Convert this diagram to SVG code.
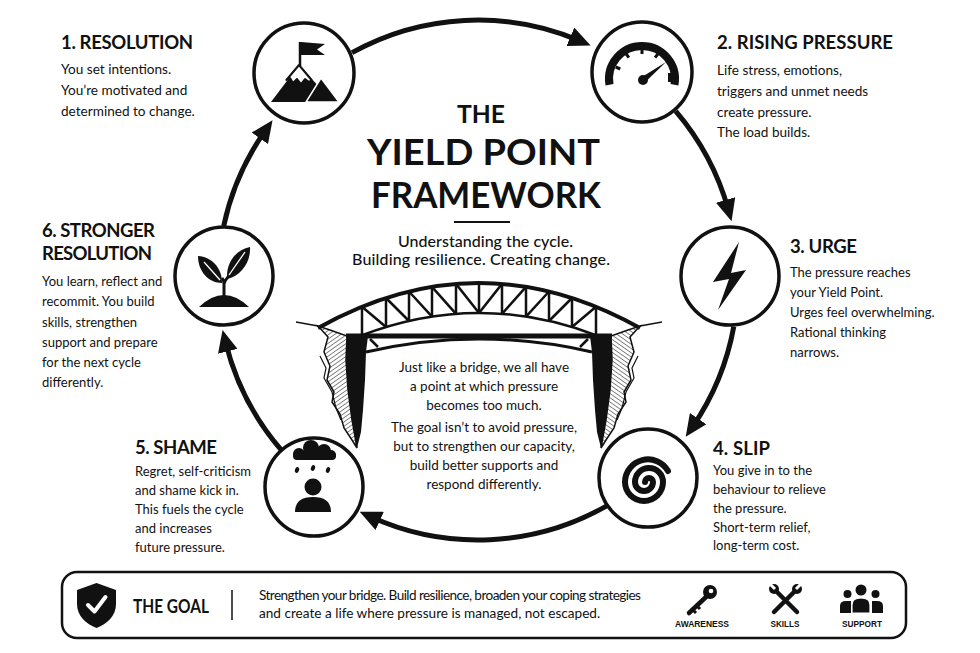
<svg xmlns="http://www.w3.org/2000/svg" width="980" height="653" viewBox="0 0 980 653">
<defs>
<style>
.h{font-family:Lato,"Liberation Sans",sans-serif;font-weight:700;font-size:18.5px;fill:#111}
.b{font-family:Lato,"Liberation Sans",sans-serif;font-size:13.6px;fill:#111}
.s{font-size:13px}
.c{font-family:Lato,"Liberation Sans",sans-serif;font-size:13.5px;fill:#111;text-anchor:middle}
.t{font-family:Lato,"Liberation Sans",sans-serif;font-weight:700;fill:#111;text-anchor:middle}
.sub{font-family:Lato,"Liberation Sans",sans-serif;font-weight:500;font-size:16px;fill:#111;text-anchor:middle}
.lab{font-family:"Liberation Sans",Arial,sans-serif;font-weight:700;font-size:8.5px;fill:#111;text-anchor:middle}
.node{fill:#fff;stroke:#111;stroke-width:3.5}
.arc{fill:none;stroke:#111;stroke-width:5}
.tr{fill:none;stroke:#111;stroke-width:2.5}
.ink{fill:#111}
</style>
<marker id="ah" viewBox="0 0 22 20" refX="10" refY="10" markerWidth="22" markerHeight="20" markerUnits="userSpaceOnUse" orient="auto"><path d="M0,0 L22,10 L0,20 z" fill="#111"/></marker>
<pattern id="hatch" width="3.5" height="3.5" patternUnits="userSpaceOnUse" patternTransform="rotate(55)"><line x1="0" y1="0" x2="0" y2="3.5" stroke="#111" stroke-width="1"/></pattern>
<g id="cliff">
<path d="M296,322 L318,326" fill="none" stroke="#111" stroke-width="1.5"/>
<path d="M318,326 L328,337 L324,352 L330,366 L327,380 L334,392 L332,402 L340,414 L344,428 L352,440 L357,448 L352,420 L348,390 L346,360 L347,336 L330,330 Z" fill="url(#hatch)" stroke="#111" stroke-width="1.5"/>
<path d="M320,356 L326,368 L324,378 L332,392 L336,408 L341,420" fill="none" stroke="#111" stroke-width="1.2"/>
<path d="M347,336 L368,336 L366,352 L365,380 L363,410 L361,432 L357,448 L352,420 L348,390 L346,360 Z" fill="#111"/>
</g>
</defs>
<rect width="980" height="653" fill="#fff"/>

<g id="connectors">
<path class="arc" marker-end="url(#ah)" d="M352,52.6 A260,260 0 0 1 579.6,40.7"/>
<path class="arc" marker-end="url(#ah)" d="M675.7,111.2 A260,260 0 0 1 728.3,209.6"/>
<path class="arc" marker-end="url(#ah)" d="M733.8,326.5 A260,260 0 0 1 692.5,426.9"/>
<path class="arc" marker-end="url(#ah)" d="M606.8,505.8 A260,260 0 0 1 370.6,516.8"/>
<path class="arc" marker-end="url(#ah)" d="M281.8,450.6 A260,260 0 0 1 225.4,341.6"/>
<path class="arc" marker-end="url(#ah)" d="M223.7,225.9 A260,260 0 0 1 265.6,130.1"/>
</g>

<g id="title">
<text class="t" x="481" y="123" font-size="25" textLength="48" lengthAdjust="spacingAndGlyphs">THE</text>
<text class="t" x="483.5" y="165" font-size="36" textLength="233" lengthAdjust="spacingAndGlyphs">YIELD POINT</text>
<text class="t" x="486" y="208" font-size="36" textLength="230" lengthAdjust="spacingAndGlyphs">FRAMEWORK</text>
<line x1="454" y1="222" x2="510" y2="222" stroke="#111" stroke-width="2"/>
<text class="sub" x="485.5" y="247" textLength="175">Understanding the cycle.</text>
<text class="sub" x="481" y="265" textLength="258">Building resilience. Creating change.</text>
</g>

<g id="bridge">
<use href="#cliff"/>
<use href="#cliff" transform="translate(958,0) scale(-1,1)"/>
<path d="M318,328 Q479,238 640,328" fill="none" stroke="#111" stroke-width="4"/>
<path d="M360,336 Q479,290 598,336" class="tr"/>
<path class="tr" d="M362,306.8 V335.2 M386,298 V327 M409,291.5 V321 M432,286.8 V316.6 M456,283.9 V313.9 M479,283 V313 M502,283.9 V313.9 M526,286.8 V316.6 M549,291.5 V321 M572,298 V327 M596,306.8 V335.2"/>
<path class="tr" d="M362,306.8 L386,327 M386,298 L409,321 M409,291.5 L432,316.6 M432,286.8 L456,313.9 M456,283.9 L479,313 M502,283.9 L479,313 M526,286.8 L502,313.9 M549,291.5 L526,316.6 M572,298 L549,321 M596,306.8 L572,327"/>
<path d="M346,336 H612" stroke="#111" stroke-width="5"/>
<path d="M366,352 Q479,326 592,352" fill="none" stroke="#111" stroke-width="3"/>
<path class="tr" d="M370,339 L378,347 M588,339 L580,347" stroke-width="2"/>
<text class="c" x="484" y="372">Just like a bridge, we all have</text>
<text class="c" x="484" y="391">a point at which pressure</text>
<text class="c" x="484" y="410">becomes too much.</text>
<text class="c" x="484" y="432">The goal isn’t to avoid pressure,</text>
<text class="c" x="484" y="451">but to strengthen our capacity,</text>
<text class="c" x="484" y="470">build better supports and</text>
<text class="c" x="484" y="489">respond differently.</text>
</g>

<g id="node1">
<circle class="node" cx="304" cy="73" r="50"/>
<line x1="300" y1="42" x2="300" y2="66" stroke="#111" stroke-width="2.5"/>
<path class="ink" d="M301,42 L325,44 L317,49.5 L325,55 L301,55 Z"/>
<path class="ink" d="M299,65 L271,102 L333,102 Z"/>
<path d="M299,65 L286.4,80 L290,78 L293,83 L297,79 L301,84 L305,79 L309,82 L311.6,80 Z" fill="#fff" stroke="#111" stroke-width="2" stroke-linejoin="round"/>
<path class="ink" d="M321,78 L306,102 L339,102 Z" stroke="#fff" stroke-width="1.5"/>
</g>
<text class="h" x="61" y="49" textLength="132">1. RESOLUTION</text>
<text class="b" x="61" y="74">You set intentions.</text>
<text class="b" x="61" y="95">You’re motivated and</text>
<text class="b" x="61" y="116">determined to change.</text>

<g id="node2">
<circle class="node" cx="642" cy="72" r="50"/>
<path d="M609.5,84.7 A33,33 0 1 1 674.5,84.7" fill="none" stroke="#111" stroke-width="8"/>
<path d="M615.7,67 L620.3,69 M625.8,53.5 L628.9,57.7 M642,49 V54 M658.2,53.5 L655.1,57.7" stroke="#111" stroke-width="3"/>
<rect x="668" y="73" width="4" height="9" fill="#111"/>
<path class="ink" d="M666,62 L644.8,82.4 L641.2,77.6 Z"/>
<circle class="ink" cx="643" cy="80" r="5"/>
</g>
<text class="h" x="717" y="49" textLength="176">2. RISING PRESSURE</text>
<text class="b" x="717" y="75">Life stress, emotions,</text>
<text class="b" x="717" y="96">triggers and unmet needs</text>
<text class="b" x="717" y="117">create pressure.</text>
<text class="b" x="717" y="137">The load builds.</text>

<g id="node3">
<circle class="node" cx="730" cy="276" r="49"/>
<path class="ink" d="M739,242 L713,282 L729,279 L718,310 L746,270 L731,273 Z"/>
</g>
<text class="h" x="790" y="253" textLength="67">3. URGE</text>
<text class="b s" x="790" y="277">The pressure reaches</text>
<text class="b s" x="790" y="297">your Yield Point.</text>
<text class="b s" x="790" y="317">Urges feel overwhelming.</text>
<text class="b s" x="790" y="337">Rational thinking</text>
<text class="b s" x="790" y="357">narrows.</text>

<g id="node4">
<circle class="node" cx="648" cy="478" r="49"/>
<path d="M645,482 a4,4 0 0 1 8,0 a9,9 0 0 1 -18,0 a14,14 0 0 1 28,0 a19,19 0 0 1 -38,0 a23,23 0 0 1 43,-11" fill="none" stroke="#111" stroke-width="6" stroke-linecap="round"/>
</g>
<text class="h" x="713" y="455" textLength="57">4. SLIP</text>
<text class="b s" x="713" y="475">You give in to the</text>
<text class="b s" x="713" y="494">behaviour to relieve</text>
<text class="b s" x="713" y="513">the pressure.</text>
<text class="b s" x="713" y="532">Short-term relief,</text>
<text class="b s" x="713" y="550">long-term cost.</text>

<g id="node5">
<circle class="node" cx="314" cy="487" r="49"/>
<circle class="ink" cx="299" cy="454" r="6"/>
<circle class="ink" cx="311" cy="448" r="8"/>
<circle class="ink" cx="324" cy="451" r="7"/>
<circle class="ink" cx="331" cy="455" r="5"/>
<rect class="ink" x="293" y="452" width="43" height="8" rx="4"/>
<ellipse class="ink" cx="297" cy="470" rx="2" ry="3" transform="rotate(20 297 470)"/>
<ellipse class="ink" cx="313" cy="468" rx="2" ry="3" transform="rotate(20 313 468)"/>
<ellipse class="ink" cx="328" cy="470" rx="2" ry="3" transform="rotate(20 328 470)"/>
<circle class="ink" cx="313" cy="487" r="8.5"/>
<path class="ink" d="M295,512 Q295,497 313,497 Q331,497 331,512 Z"/>
</g>
<text class="h" x="135" y="454" textLength="82">5. SHAME</text>
<text class="b s" x="135" y="476">Regret, self-criticism</text>
<text class="b s" x="135" y="495">and shame kick in.</text>
<text class="b s" x="135" y="514">This fuels the cycle</text>
<text class="b s" x="135" y="533">and increases</text>
<text class="b s" x="135" y="552">future pressure.</text>

<g id="node6">
<circle class="node" cx="224" cy="276" r="49"/>
<path class="ink" d="M199,307 Q224,283 249,307 Z"/>
<path d="M224,297 V284 Q224,280 222,278 M224,284 Q225,280 228,277" fill="none" stroke="#111" stroke-width="3"/>
<path class="ink" d="M222,283 C209,283 198,272 198,256 C212,257 222,268 222,283 Z"/>
<path class="ink" d="M227,279 C226,262 236,250 250,247 C251,262 241,276 227,279 Z"/>
<path d="M220,280 L204,262 M229,275 L245,252" stroke="#fff" stroke-width="1.3" fill="none"/>
</g>
<text class="h" x="42" y="237" textLength="113">6. STRONGER</text>
<text class="h" x="42" y="260" textLength="110">RESOLUTION</text>
<text class="b s" x="42" y="286">You learn, reflect and</text>
<text class="b s" x="42" y="306">recommit. You build</text>
<text class="b s" x="42" y="327">skills, strengthen</text>
<text class="b s" x="42" y="347">support and prepare</text>
<text class="b s" x="42" y="367">for the next cycle</text>
<text class="b s" x="42" y="387">differently.</text>

<g id="goal">
<rect x="62" y="572" width="844" height="66" rx="15" fill="#fff" stroke="#111" stroke-width="2.5"/>
<path class="ink" d="M96.5,583 L116,590 L116,604 C116,616 107,624 96.5,628 C86,624 77,616 77,604 L77,590 Z"/>
<path d="M88,605 L94.5,611.5 L105.5,597" fill="none" stroke="#fff" stroke-width="4" stroke-linecap="round" stroke-linejoin="round"/>
<text class="h" x="133" y="613" font-size="17.5" textLength="76" lengthAdjust="spacingAndGlyphs">THE GOAL</text>
<line x1="232" y1="590" x2="232" y2="620" stroke="#111" stroke-width="1.5"/>
<text class="b" x="259" y="600" font-size="12" textLength="382">Strengthen your bridge. Build resilience, broaden your coping strategies</text>
<text class="b" x="259" y="618" font-size="12">and create a life where pressure is managed, not escaped.</text>
<g id="awareness">
<circle class="ink" cx="710" cy="592" r="7"/>
<circle cx="711" cy="591" r="2.3" fill="#fff"/>
<path d="M706,597 L689,613" stroke="#111" stroke-width="4.5" stroke-linecap="round"/>
<path d="M692,609 L696,613 M696,605 L700,609" stroke="#111" stroke-width="3"/>
<text class="lab" x="702" y="627" textLength="54" lengthAdjust="spacingAndGlyphs">AWARENESS</text>
</g>
<g id="skills">
<path d="M776,591 L797,612 M795,591 L774,612" stroke="#111" stroke-width="4.5" stroke-linecap="round"/>
<circle class="ink" cx="774" cy="589" r="5"/>
<circle class="ink" cx="797" cy="589" r="5"/>
<path d="M770,584 L775,589 M801,584 L796,589" stroke="#fff" stroke-width="3"/>
<text class="lab" x="785" y="627" textLength="29" lengthAdjust="spacingAndGlyphs">SKILLS</text>
</g>
<g id="support">
<circle class="ink" cx="861" cy="590" r="5.5"/>
<circle class="ink" cx="847.5" cy="594" r="4"/>
<circle class="ink" cx="875.5" cy="594" r="4"/>
<path class="ink" d="M840,613 V606 Q840,601 846,601 H851 V613 Z M883,613 V606 Q883,601 877,601 H872 V613 Z"/>
<path class="ink" d="M852,613 V605 Q852,598 861,598 Q870,598 870,605 V613 Z" stroke="#fff" stroke-width="1.2"/>
<text class="lab" x="862" y="627" textLength="40" lengthAdjust="spacingAndGlyphs">SUPPORT</text>
</g>
</g>
</svg>
